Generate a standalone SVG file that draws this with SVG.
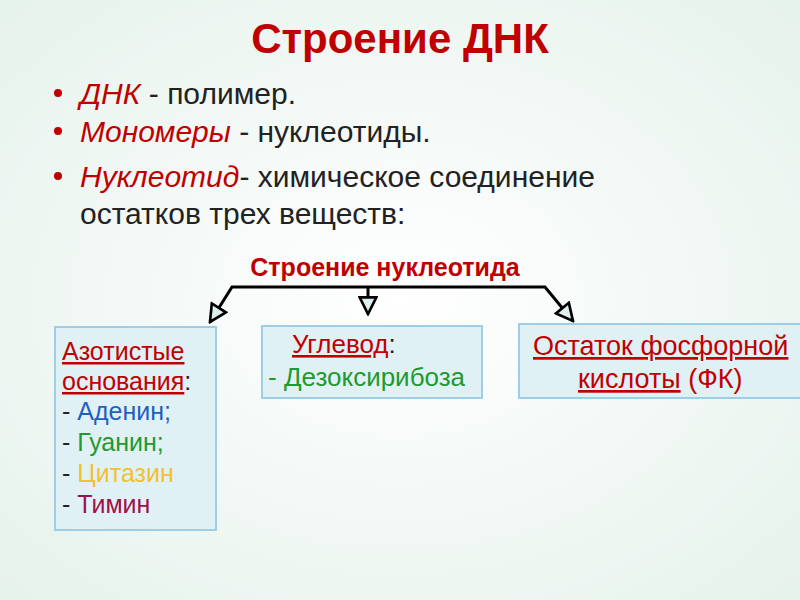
<svg xmlns="http://www.w3.org/2000/svg" width="800" height="600" viewBox="0 0 800 600">
<defs>
<radialGradient id="bg" cx="0.5" cy="0.5" r="0.7"><stop offset="0" stop-color="#ffffff"/><stop offset="1" stop-color="#e6f2ec"/></radialGradient>
<marker id="ar" viewBox="0 0 12 12" refX="11" refY="6" markerWidth="20" markerHeight="20" markerUnits="userSpaceOnUse" orient="auto"><path d="M1,1 L11,6 L1,11 Z" fill="#dfeeee" stroke="#000" stroke-width="1.6"/></marker>
<style>
text{font-family:"Liberation Sans",Arial,sans-serif;}
.box{fill:#e0f1f6;stroke:#9fcde3;stroke-width:2;}
.t{font-size:25px;fill:#222;}
.r{fill:#c00000;}
.u{text-decoration:underline;}
.c{stroke:#000;stroke-width:3;fill:none;}
</style>
</defs>
<rect width="800" height="600" fill="url(#bg)"/>
<text x="400" y="53" text-anchor="middle" font-size="42" font-weight="bold" fill="#c00000">Строение ДНК</text>
<g font-size="30" fill="#222">
<circle cx="58" cy="93" r="4" fill="#c00000"/><circle cx="58" cy="131" r="4" fill="#c00000"/><circle cx="58" cy="176" r="4" fill="#c00000"/>
<text x="80" y="104"><tspan class="r" font-style="italic">ДНК</tspan> - полимер.</text>
<text x="80" y="142"><tspan class="r" font-style="italic">Мономеры</tspan> - нуклеотиды.</text>
<text x="80" y="187"><tspan class="r" font-style="italic">Нуклеотид</tspan>- химическое соединение</text>
<text x="80" y="224">остатков трех веществ:</text>
</g>
<text x="385" y="276" text-anchor="middle" font-size="25" font-weight="bold" fill="#c00000">Строение нуклеотида</text>
<g id="connectors">
<path class="c" d="M368,287 L232,287 L210,322" marker-end="url(#ar)"/>
<path class="c" d="M368,287 L545,287 L573,321" marker-end="url(#ar)"/>
<path class="c" d="M368,287 L368,314" marker-end="url(#ar)"/>
</g>
<g id="n1">
<rect class="box" x="55" y="327" width="161" height="203"/>
<text class="t" x="62" y="360"><tspan class="r u">Азотистые</tspan></text>
<text class="t" x="62" y="390"><tspan class="r u">основания</tspan>:</text>
<text class="t" x="62" y="420">- <tspan style="fill:#1f5fbf">Аденин;</tspan></text>
<text class="t" x="62" y="451">- <tspan style="fill:#1e9a2e">Гуанин;</tspan></text>
<text class="t" x="62" y="482">- <tspan style="fill:#f2c12e">Цитазин</tspan></text>
<text class="t" x="62" y="513">- <tspan style="fill:#a0104a">Тимин</tspan></text>
</g>
<g id="n2">
<rect class="box" x="262" y="326" width="220" height="72"/>
<text class="t" x="292" y="353" style="font-size:26px"><tspan class="r u">Углевод</tspan>:</text>
<text class="t" x="268" y="386" style="fill:#1e9a2e;font-size:26px">- Дезоксирибоза</text>
</g>
<g id="n3">
<rect class="box" x="519" y="324" width="290" height="74"/>
<text class="t r u" x="533" y="355" style="font-size:27px">Остаток фосфорной</text>
<text class="t" x="578" y="388" style="font-size:27px"><tspan class="r u">кислоты</tspan> <tspan class="r">(ФК)</tspan></text>
</g>
</svg>
